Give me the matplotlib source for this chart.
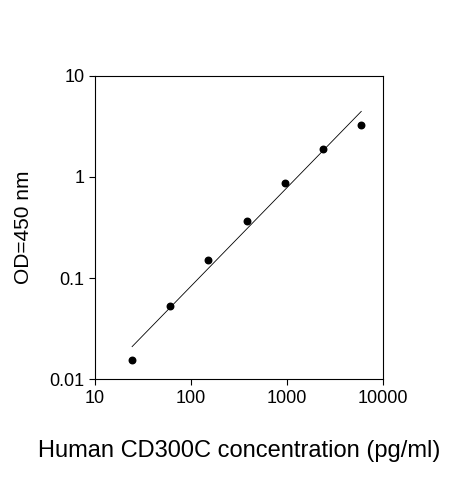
import matplotlib
matplotlib.use('Agg')
import matplotlib.pyplot as plt
import numpy as np

plt.rcParams['font.family'] = ['Liberation Sans', 'DejaVu Sans']

# standard curve data
conc = [24.4, 61, 152, 381, 953, 2381, 5950]
od = [0.0155, 0.053, 0.15, 0.37, 0.87, 1.9, 3.3]

fig = plt.figure(figsize=(4.63, 4.8), dpi=100)
ax = fig.add_axes([0.205, 0.21, 0.622, 0.632])

ax.scatter(conc, od, s=22, color='black', zorder=3)
# fitted line in log-log space
k, b = np.polyfit(np.log10(conc), np.log10(od), 1)
xl = np.array([conc[0], conc[-1]])
ax.plot(xl, 10 ** (k * np.log10(xl) + b), color='black', lw=0.6)

ax.set_xscale('log')
ax.set_yscale('log')
ax.set_xlim(10, 10000)
ax.set_ylim(0.01, 10)
ax.set_xticks([10, 100, 1000, 10000])
ax.set_xticklabels(['10', '100', '1000', '10000'])
ax.set_yticks([0.01, 0.1, 1, 10])
ax.set_yticklabels(['0.01', '0.1', '1', '10'])
ax.minorticks_off()
ax.tick_params(direction='out', labelsize=13, length=4)
ax.set_xlabel('Human CD300C concentration (pg/ml)', fontsize=17, labelpad=24)
ax.set_ylabel('OD=450 nm', fontsize=15, labelpad=12)

fig.savefig('out.png', dpi=100)
